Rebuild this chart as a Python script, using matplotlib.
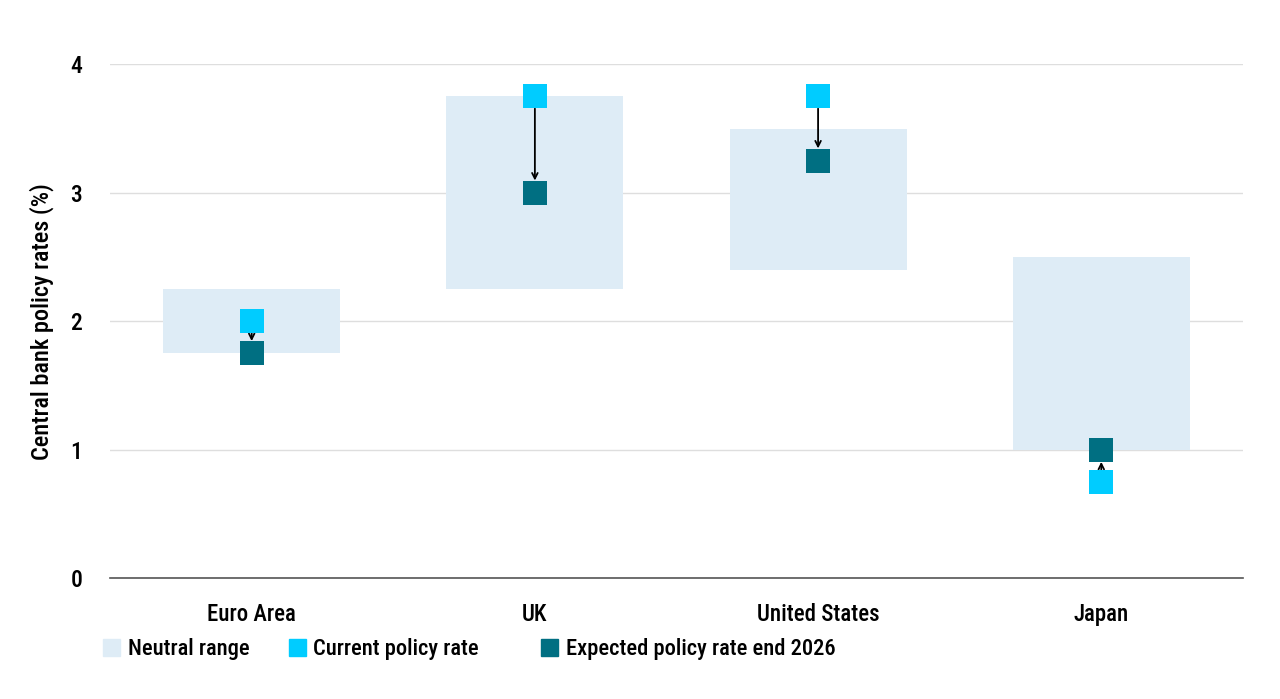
import matplotlib
matplotlib.use("Agg")
import matplotlib.pyplot as plt
from matplotlib import font_manager
from matplotlib.patches import Patch

names = {f.name for f in font_manager.fontManager.ttflist}
fam = "Liberation Sans Narrow" if "Liberation Sans Narrow" in names else ("Roboto Condensed" if "Roboto Condensed" in names else "Roboto")
plt.rcParams['font.family'] = [fam, 'DejaVu Sans']
plt.rcParams['font.weight'] = 'medium'
plt.rcParams['axes.labelweight'] = 'medium'

categories = ["Euro Area", "UK", "United States", "Japan"]
neutral_low = [1.75, 2.25, 2.4, 1.0]
neutral_high = [2.25, 3.75, 3.5, 2.5]
current_rate = [2.0, 3.75, 3.75, 0.75]
expected_rate = [1.75, 3.0, 3.25, 1.0]
yticks = [0, 1, 2, 3, 4]
legend_labels = ["Neutral range", "Current policy rate", "Expected policy rate end 2026"]

c_neutral = "#deecf6"
c_current = "#00ccff"
c_expected = "#006f82"

fig = plt.figure(figsize=(12.8, 6.99), dpi=100)
ax = fig.add_axes([0.086, 0.173, 0.885, 0.735])
x = list(range(len(categories)))

ax.bar(x, [h - l for h, l in zip(neutral_high, neutral_low)], bottom=neutral_low,
       width=0.625, color=c_neutral, zorder=2)
ax.plot(x, current_rate, 's', ms=17.5, color=c_current, zorder=4, mew=0)
ax.plot(x, expected_rate, 's', ms=17.5, color=c_expected, zorder=4, mew=0)

half = 0.095
for xi, c, e in zip(x, current_rate, expected_rate):
    d = 1 if e > c else -1
    ax.annotate("", xy=(xi, e - d * half), xytext=(xi, c + d * half),
                arrowprops=dict(arrowstyle="->", color="black", lw=1.3,
                                shrinkA=0, shrinkB=0, mutation_scale=10),
                zorder=3)

ax.set_xlim(-0.5, 3.5)
ax.set_ylim(0, 4)
ax.set_yticks(yticks)
ax.set_yticklabels([str(t) for t in yticks], fontsize=17)
ax.set_xticks(x)
ax.set_xticklabels(categories, fontsize=16.5)
ax.tick_params(axis='both', length=0)
ax.tick_params(axis='y', pad=20)
ax.tick_params(axis='x', pad=18)
ax.grid(axis='y', color="#dedede", lw=1, zorder=1)
ax.set_axisbelow(True)
for s in ["top", "right", "left"]:
    ax.spines[s].set_visible(False)
ax.spines["bottom"].set_color("#555555")
ax.spines["bottom"].set_linewidth(1.2)
ax.spines["bottom"].set_zorder(5)
ax.set_ylabel("Central bank policy rates (%)", fontsize=17.5, labelpad=12, fontweight='medium')

legend_colors = [c_neutral, c_current, c_expected]
legend_x = [0.0805, 0.2255, 0.4225]
for lx, lab, col in zip(legend_x, legend_labels, legend_colors):
    fig.legend([Patch(color=col)], [lab], loc="center left", bbox_to_anchor=(lx, 0.071),
               frameon=False, handlelength=0.75, handleheight=0.75, borderpad=0,
               borderaxespad=0, handletextpad=0.35, prop={'weight': 'medium', 'size': 16.2})

fig.savefig("out.png", dpi=100)
